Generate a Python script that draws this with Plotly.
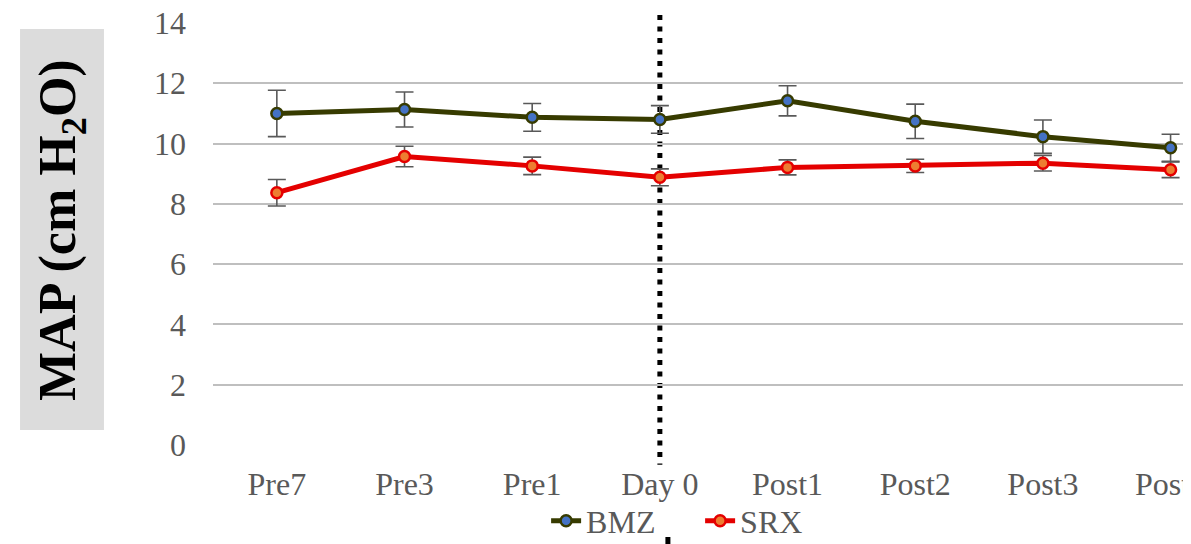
import plotly.graph_objects as go

categories = ["Pre7", "Pre3", "Pre1", "Day 0", "Post1", "Post2", "Post3", "Post4"]
bmz_mean = [11.00, 11.13, 10.87, 10.80, 11.42, 10.74, 10.23, 9.86]
bmz_err = [0.77, 0.58, 0.46, 0.46, 0.50, 0.57, 0.55, 0.45]
srx_mean = [8.37, 9.57, 9.26, 8.88, 9.21, 9.26, 9.35, 9.13]
srx_err = [0.44, 0.34, 0.29, 0.28, 0.25, 0.22, 0.26, 0.26]
y_ticks = [0, 2, 4, 6, 8, 10, 12, 14]
divider_category = "Day 0"

FONT = "Liberation Serif"
TICK_GRAY = "#595959"
BMZ_LINE = "#373B00"
SRX_LINE = "#E40000"

fig = go.Figure()
fig.add_trace(go.Scatter(
    x=list(range(len(categories))), y=bmz_mean, name="BMZ", mode="lines+markers",
    line=dict(color=BMZ_LINE, width=5),
    marker=dict(size=11, color="#4472C4", line=dict(color=BMZ_LINE, width=2.5)),
    error_y=dict(type="data", array=bmz_err, visible=True, color=TICK_GRAY, thickness=1.6, width=9),
))
fig.add_trace(go.Scatter(
    x=list(range(len(categories))), y=srx_mean, name="SRX", mode="lines+markers",
    line=dict(color=SRX_LINE, width=5),
    marker=dict(size=11, color="#ED7D31", line=dict(color=SRX_LINE, width=2.5)),
    error_y=dict(type="data", array=srx_err, visible=True, color=TICK_GRAY, thickness=1.6, width=9),
))

div_x = categories.index(divider_category)

fig.add_shape(type="rect", xref="paper", yref="paper",
              x0=-0.1973, x1=-0.1115, y0=0.0355, y1=0.9858,
              fillcolor="#DCDCDC", line=dict(width=0), layer="below")
fig.add_shape(type="line", xref="x", yref="paper",
              x0=div_x, x1=div_x, y0=1.019, y1=-0.047,
              line=dict(color="black", width=5, dash="5px,6.5px"), layer="between")
fig.add_shape(type="line", xref="x", yref="paper",
              x0=div_x + 0.063, x1=div_x + 0.063, y0=-0.218, y1=-0.26,
              line=dict(color="black", width=5), layer="above")

fig.add_annotation(
    text="<b>MAP (cm H<sub>2</sub>O)</b>", textangle=-90,
    xref="paper", yref="paper", x=-0.1544, y=0.5095,
    xanchor="center", yanchor="middle", showarrow=False,
    font=dict(family=FONT, size=52, color="black"),
)

# page body adds an 8px offset; size the figure to fill the 1191x544 window exactly
fig.update_layout(
    width=1183, height=536,
    margin=dict(l=205, r=0, t=15, b=99, autoexpand=False),
    paper_bgcolor="white", plot_bgcolor="white",
    font=dict(family=FONT, size=32, color=TICK_GRAY),
    showlegend=True,
    legend=dict(orientation="h", x=0.3406, xanchor="left", y=-0.18, yanchor="middle",
                font=dict(family=FONT, size=32, color=TICK_GRAY),
                bgcolor="rgba(0,0,0,0)", entrywidth=109, entrywidthmode="pixels",
                tracegroupgap=0),
)
fig.update_xaxes(
    tickmode="array", tickvals=list(range(len(categories))), ticktext=categories,
    range=[-0.5, 7.16], showgrid=False, zeroline=False, showline=False,
    ticks="", ticklabelstandoff=17, automargin=False, ticklabeloverflow="allow",
    tickfont=dict(family=FONT, size=32, color=TICK_GRAY),
)
fig.update_yaxes(
    range=[0, 14], tickvals=y_ticks, showgrid=True, gridcolor="#BFBFBF", gridwidth=1.6,
    zeroline=False, showline=False, ticks="", ticklabelstandoff=26, automargin=False,
    ticklabeloverflow="allow",
    tickfont=dict(family=FONT, size=32, color=TICK_GRAY),
)

fig.write_html("out.html")
